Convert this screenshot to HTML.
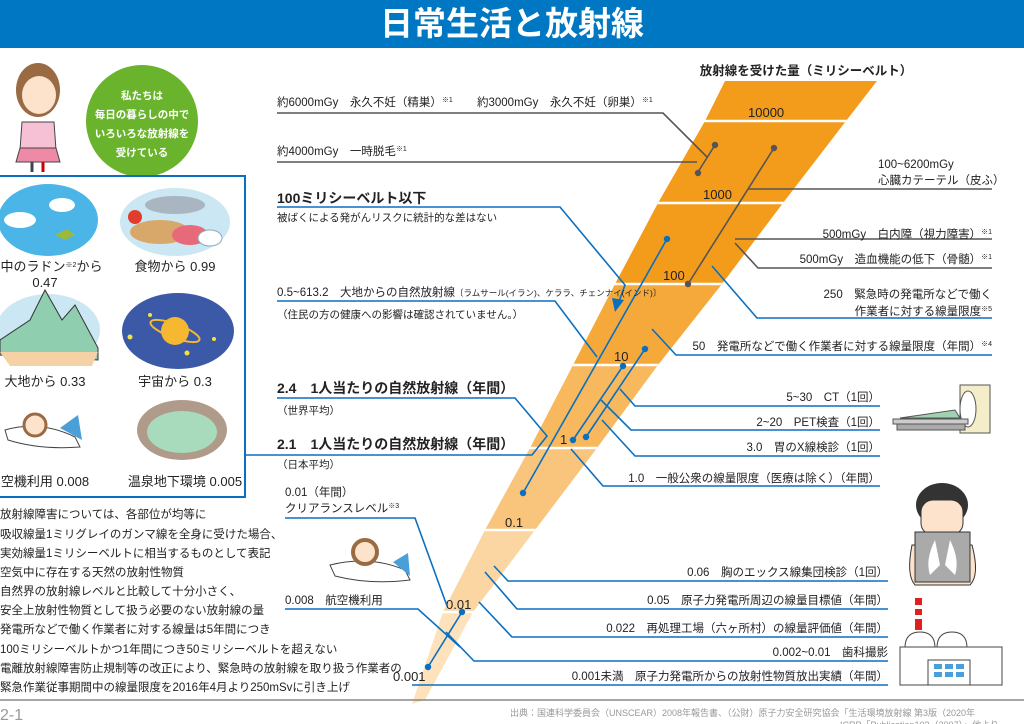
<!DOCTYPE html>
<html><head><meta charset="utf-8"><style>
html,body{margin:0;padding:0;background:#fff;}
svg{display:block;font-family:"Liberation Sans","Noto Sans CJK JP",sans-serif;}
</style></head><body>
<svg width="1024" height="724" viewBox="0 0 1024 724" xmlns="http://www.w3.org/2000/svg">
<rect x="0" y="0" width="1024" height="48" fill="#0077c2"/>
<text x="512" y="35" fill="#fff" font-size="33" font-weight="bold" text-anchor="middle" font-family="Noto Sans CJK JP, sans-serif">日常生活と放射線</text>

<defs><clipPath id="cone"><polygon points="725,81 877,81 846,121 783,203 722,284 658,365 597,448 535,530 473,612 425,700 412,704 443,612 485,530 530,448 573,365 615,284 658,203 705,121"/></clipPath></defs>
<g clip-path="url(#cone)">
<rect x="380" y="60" width="520" height="224" fill="#f39c1c"/>
<rect x="380" y="284" width="520" height="81" fill="#f5a93a"/>
<rect x="380" y="365" width="520" height="83" fill="#f7b85e"/>
<rect x="380" y="448" width="520" height="82" fill="#f9c57c"/>
<rect x="380" y="530" width="520" height="82" fill="#fbd6a2"/>
<rect x="380" y="612" width="520" height="100" fill="#fde2bb"/>
<g stroke="#fff" stroke-width="2.5"><line x1="380" y1="121" x2="900" y2="121"/><line x1="380" y1="203" x2="900" y2="203"/><line x1="380" y1="284" x2="900" y2="284"/><line x1="380" y1="365" x2="900" y2="365"/><line x1="380" y1="448" x2="900" y2="448"/><line x1="380" y1="530" x2="900" y2="530"/><line x1="380" y1="612" x2="900" y2="612"/></g>
</g>
<g font-size="13" fill="#222">
<text x="748" y="117">10000</text><text x="703" y="199">1000</text><text x="663" y="280">100</text><text x="614" y="361">10</text><text x="560" y="444">1</text><text x="505" y="527">0.1</text><text x="446" y="609">0.01</text><text x="393" y="681">0.001</text>
</g>
<text x="806" y="75" font-size="12.5" font-weight="bold" text-anchor="middle" fill="#222">放射線を受けた量（ミリシーベルト）</text>

<g stroke="#555" stroke-width="1.6" fill="none">
<polyline points="277,113 663,113 707,157"/>
<line x1="715" y1="145" x2="698" y2="172"/>
<polyline points="277,162 697,162"/>
<line x1="774" y1="148" x2="688" y2="284"/>
<line x1="748" y1="189" x2="992" y2="189"/>
<line x1="735" y1="239" x2="992" y2="239"/>
<polyline points="735,243 758,268 992,268"/>
</g>
<g fill="#555"><circle cx="715" cy="145" r="3.2"/><circle cx="698" cy="173" r="3.2"/><circle cx="774" cy="148" r="3.2"/><circle cx="688" cy="284" r="3.2"/></g>

<g stroke="#0a6fc0" stroke-width="1.6" fill="none">
<polyline points="277,207 560,207 625,285 618,304"/>
<polyline points="277,301 555,301 597,357"/>
<line x1="667" y1="239" x2="523" y2="493"/>
<polyline points="712,266 757,318 992,318"/>
<polyline points="652,329 676,355 992,355"/>
<line x1="645" y1="349" x2="586" y2="437"/>
<line x1="623" y1="366" x2="573" y2="440"/>
<polyline points="620,389 635,406 880,406"/>
<polyline points="601,400 631,430 880,430"/>
<polyline points="602,420 635,456 880,456"/>
<polyline points="571,449 603,486 880,486"/>
<polyline points="277,398 515,398 547,436 532,455 277,455"/>
<line x1="245" y1="455" x2="277" y2="455"/>
<polyline points="285,518 415,518 447,606"/>
<polyline points="285,609 418,609 460,647"/>
<line x1="462" y1="612" x2="428" y2="667"/>
<polyline points="494,566 508,581 888,581"/>
<polyline points="485,572 517,609 888,609"/>
<polyline points="479,602 512,637 888,637"/>
<polyline points="446,632 474,661 888,661"/>
<polyline points="412,685 888,685"/>
</g>
<polygon points="612,298 624,300 615,312" fill="#0a6fc0"/>
<g fill="#0a6fc0"><circle cx="667" cy="239" r="3.2"/><circle cx="523" cy="493" r="3.2"/><circle cx="645" cy="349" r="3.2"/><circle cx="623" cy="366" r="3.2"/><circle cx="586" cy="437" r="3.2"/><circle cx="573" cy="440" r="3.2"/><circle cx="462" cy="612" r="3.2"/><circle cx="428" cy="667" r="3.2"/></g>

<g font-size="11.5" fill="#222">
<text x="277" y="106">約6000mGy　永久不妊（精巣）<tspan font-size="7" dy="-4">※1</tspan></text>
<text x="477" y="106">約3000mGy　永久不妊（卵巣）<tspan font-size="7" dy="-4">※1</tspan></text>
<text x="277" y="155">約4000mGy　一時脱毛<tspan font-size="7" dy="-4">※1</tspan></text>
<text x="277" y="203" font-size="14" font-weight="bold">100ミリシーベルト以下</text>
<text x="277" y="221" font-size="10.5">被ばくによる発がんリスクに統計的な差はない</text>
<text x="277" y="296">0.5~613.2　大地からの自然放射線<tspan font-size="8.5">〔ラムサール(イラン)、ケララ、チェンナイ(インド)〕</tspan></text>
<text x="277" y="318" font-size="10.5">（住民の方の健康への影響は確認されていません。）</text>
<text x="277" y="393" font-size="14" font-weight="bold">2.4　1人当たりの自然放射線（年間）</text>
<text x="277" y="414" font-size="10.5">（世界平均）</text>
<text x="277" y="449" font-size="14" font-weight="bold">2.1　1人当たりの自然放射線（年間）</text>
<text x="277" y="468" font-size="10.5">（日本平均）</text>
<text x="285" y="496">0.01（年間）</text>
<text x="285" y="512">クリアランスレベル<tspan font-size="7" dy="-4">※3</tspan></text>
<text x="285" y="604">0.008　航空機利用</text>
</g>
<g font-size="11.5" fill="#222" text-anchor="end">
<text x="992" y="238">500mGy　白内障（視力障害）<tspan font-size="7" dy="-4">※1</tspan></text>
<text x="992" y="263">500mGy　造血機能の低下（骨髄）<tspan font-size="7" dy="-4">※1</tspan></text>
<text x="992" y="298">250　緊急時の発電所などで働く</text>
<text x="992" y="315">作業者に対する線量限度<tspan font-size="7" dy="-4">※5</tspan></text>
<text x="992" y="350">50　発電所などで働く作業者に対する線量限度（年間）<tspan font-size="7" dy="-4">※4</tspan></text>
<text x="880" y="401">5~30　CT（1回）</text>
<text x="880" y="426">2~20　PET検査（1回）</text>
<text x="880" y="451">3.0　胃のX線検診（1回）</text>
<text x="880" y="482">1.0　一般公衆の線量限度（医療は除く）（年間）</text>
<text x="888" y="576">0.06　胸のエックス線集団検診（1回）</text>
<text x="888" y="604">0.05　原子力発電所周辺の線量目標値（年間）</text>
<text x="888" y="632">0.022　再処理工場（六ヶ所村）の線量評価値（年間）</text>
<text x="888" y="656">0.002~0.01　歯科撮影</text>
<text x="888" y="680">0.001未満　原子力発電所からの放射性物質放出実績（年間）</text>
</g>
<text x="878" y="168" font-size="11.5" fill="#222">100~6200mGy</text>
<text x="878" y="184" font-size="11.5" fill="#222">心臓カテーテル（皮ふ）</text>

<circle cx="142" cy="121" r="56" fill="#6ab42d"/>
<g fill="#fff" font-size="10.5" text-anchor="middle" font-weight="bold"><text x="142" y="99">私たちは</text><text x="142" y="118">毎日の暮らしの中で</text><text x="142" y="137">いろいろな放射線を</text><text x="142" y="156">受けている</text></g>
<ellipse cx="38" cy="90" rx="22" ry="27" fill="#9a6a43"/>
<ellipse cx="39" cy="95" rx="17" ry="19" fill="#fde3cc"/>
<path d="M22 122 L54 122 L56 150 L20 150 Z" fill="#f6c1d4" stroke="#444"/>
<path d="M20 148 L56 148 L60 162 L16 162 Z" fill="#ee8aa6" stroke="#444"/>
<line x1="32" y1="162" x2="32" y2="172" stroke="#444" stroke-width="3"/><line x1="43" y1="162" x2="43" y2="172" stroke="#c00" stroke-width="3"/>
<rect x="-2" y="176" width="247" height="321" fill="none" stroke="#0a6fc0" stroke-width="2"/>
<ellipse cx="48" cy="220" rx="50" ry="36" fill="#4cb5e8"/>
<ellipse cx="20" cy="220" rx="16" ry="8" fill="#fff"/><ellipse cx="62" cy="205" rx="13" ry="7" fill="#fff"/>
<path d="M55 235 l12 -6 l8 6 l-10 5 z" fill="#9cba3a"/>
<ellipse cx="175" cy="222" rx="55" ry="34" fill="#cbe7f4"/>
<ellipse cx="160" cy="232" rx="30" ry="12" fill="#d8a86a"/><ellipse cx="175" cy="205" rx="30" ry="9" fill="#a9b6c2"/><ellipse cx="190" cy="235" rx="18" ry="10" fill="#e76a7a"/><circle cx="135" cy="217" r="7" fill="#e23c2c"/><ellipse cx="210" cy="238" rx="12" ry="8" fill="#fff" stroke="#8ab"/>
<ellipse cx="48" cy="330" rx="52" ry="36" fill="#cbe7f4"/>
<path d="M0 355 L0 340 L30 320 L45 290 L62 320 L75 305 L98 348 L98 360 Z" fill="#8fcfb0" stroke="#333"/>
<path d="M0 352 L98 352 L92 366 L10 366 Z" fill="#f6d1a6"/>
<ellipse cx="178" cy="331" rx="56" ry="38" fill="#3b59a7"/>
<circle cx="175" cy="331" r="14" fill="#f6b830"/><ellipse cx="175" cy="331" rx="26" ry="7" fill="none" stroke="#f6b830" stroke-width="2" transform="rotate(20 175 331)"/>
<g fill="#f6e23b"><circle cx="130" cy="337" r="2.5"/><circle cx="187" cy="353" r="2.5"/><circle cx="214" cy="339" r="2"/><circle cx="150" cy="315" r="2"/></g>
<g font-size="13" fill="#222" text-anchor="middle">
<text x="45" y="271">気中のラドン<tspan font-size="7" dy="-4">※2</tspan><tspan dy="4">から</tspan></text>
<text x="45" y="287">0.47</text>
<text x="175" y="271">食物から 0.99</text>
<text x="45" y="386">大地から 0.33</text>
<text x="175" y="386">宇宙から 0.3</text>
<text x="45" y="486">空機利用 0.008</text>
<text x="185" y="486">温泉地下環境 0.005</text>
</g>
<path d="M5 430 Q40 420 75 437 L80 447 Q40 450 8 440 Z" fill="#fff" stroke="#444"/>
<path d="M60 428 L78 415 L82 440 Z" fill="#4a9fd8"/>
<circle cx="35" cy="425" r="11" fill="#fde3cc" stroke="#9a6a43" stroke-width="3"/>
<ellipse cx="182" cy="430" rx="45" ry="30" fill="#b09a8a"/><ellipse cx="182" cy="432" rx="35" ry="21" fill="#a8dbbb"/>
<path d="M330 565 Q370 555 405 570 L410 580 Q370 585 335 576 Z" fill="#fff" stroke="#444"/>
<path d="M393 562 L408 553 L410 576 Z" fill="#4a9fd8"/>
<circle cx="365" cy="552" r="12" fill="#fde3cc" stroke="#9a6a43" stroke-width="4"/>

<g font-size="11.5" fill="#222">
<text x="0" y="518">放射線障害については、各部位が均等に</text>
<text x="0" y="538">吸収線量1ミリグレイのガンマ線を全身に受けた場合、</text>
<text x="0" y="557">実効線量1ミリシーベルトに相当するものとして表記</text>
<text x="0" y="576">空気中に存在する天然の放射性物質</text>
<text x="0" y="595">自然界の放射線レベルと比較して十分小さく、</text>
<text x="0" y="614">安全上放射性物質として扱う必要のない放射線の量</text>
<text x="0" y="633">発電所などで働く作業者に対する線量は5年間につき</text>
<text x="0" y="653">100ミリシーベルトかつ1年間につき50ミリシーベルトを超えない</text>
<text x="0" y="672">電離放射線障害防止規制等の改正により、緊急時の放射線を取り扱う作業者の</text>
<text x="0" y="691">緊急作業従事期間中の線量限度を2016年4月より250mSvに引き上げ</text>
</g>

<rect x="960" y="385" width="30" height="48" fill="#f3edc9" stroke="#555"/>
<ellipse cx="968" cy="409" rx="8" ry="18" fill="#fff" stroke="#555"/>
<rect x="893" y="419" width="75" height="5" fill="#ccc" stroke="#555"/>
<rect x="897" y="424" width="68" height="6" fill="#aaa" stroke="#555"/>
<path d="M900 418 L955 410 L960 418 Z" fill="#9fd3b0" stroke="#555"/>
<ellipse cx="942" cy="505" rx="26" ry="22" fill="#333"/>
<rect x="921" y="500" width="42" height="35" rx="12" fill="#fde3cc" stroke="#333"/>
<path d="M912 545 Q906 575 915 585 L970 585 Q980 575 972 545 Z" fill="#fde3cc" stroke="#333"/>
<rect x="915" y="532" width="55" height="50" fill="#aaa" stroke="#333"/>
<path d="M935 540 Q925 560 930 575 L940 565 Z M950 540 Q960 560 955 575 L945 565 Z" fill="#fff"/>
<rect x="915" y="598" width="7" height="32" fill="#e02020"/>
<rect x="915" y="605" width="7" height="4" fill="#fff"/><rect x="915" y="615" width="7" height="4" fill="#fff"/>
<path d="M905 648 Q905 632 920 632 Q935 632 935 648 Z M937 648 Q937 632 952 632 Q967 632 967 648 Z" fill="#fff" stroke="#444"/>
<rect x="900" y="647" width="102" height="38" fill="#fff" stroke="#444"/>
<rect x="928" y="660" width="42" height="25" fill="#fff" stroke="#444"/>
<g fill="#4a9fd8"><rect x="934" y="664" width="8" height="5"/><rect x="945" y="664" width="8" height="5"/><rect x="956" y="664" width="8" height="5"/><rect x="934" y="672" width="8" height="5"/><rect x="945" y="672" width="8" height="5"/><rect x="956" y="672" width="8" height="5"/></g>

<line x1="0" y1="700" x2="1024" y2="700" stroke="#888" stroke-width="1.5"/>
<text x="0" y="720" font-size="16" fill="#999">2-1</text>
<text x="510" y="716" font-size="9" fill="#999">出典：国連科学委員会（UNSCEAR）2008年報告書、（公財）原子力安全研究協会「生活環境放射線 第3版（2020年</text>
<text x="840" y="728" font-size="9" fill="#999">ICRP「Publication103（2007）」他より</text>
</svg>
</body></html>
